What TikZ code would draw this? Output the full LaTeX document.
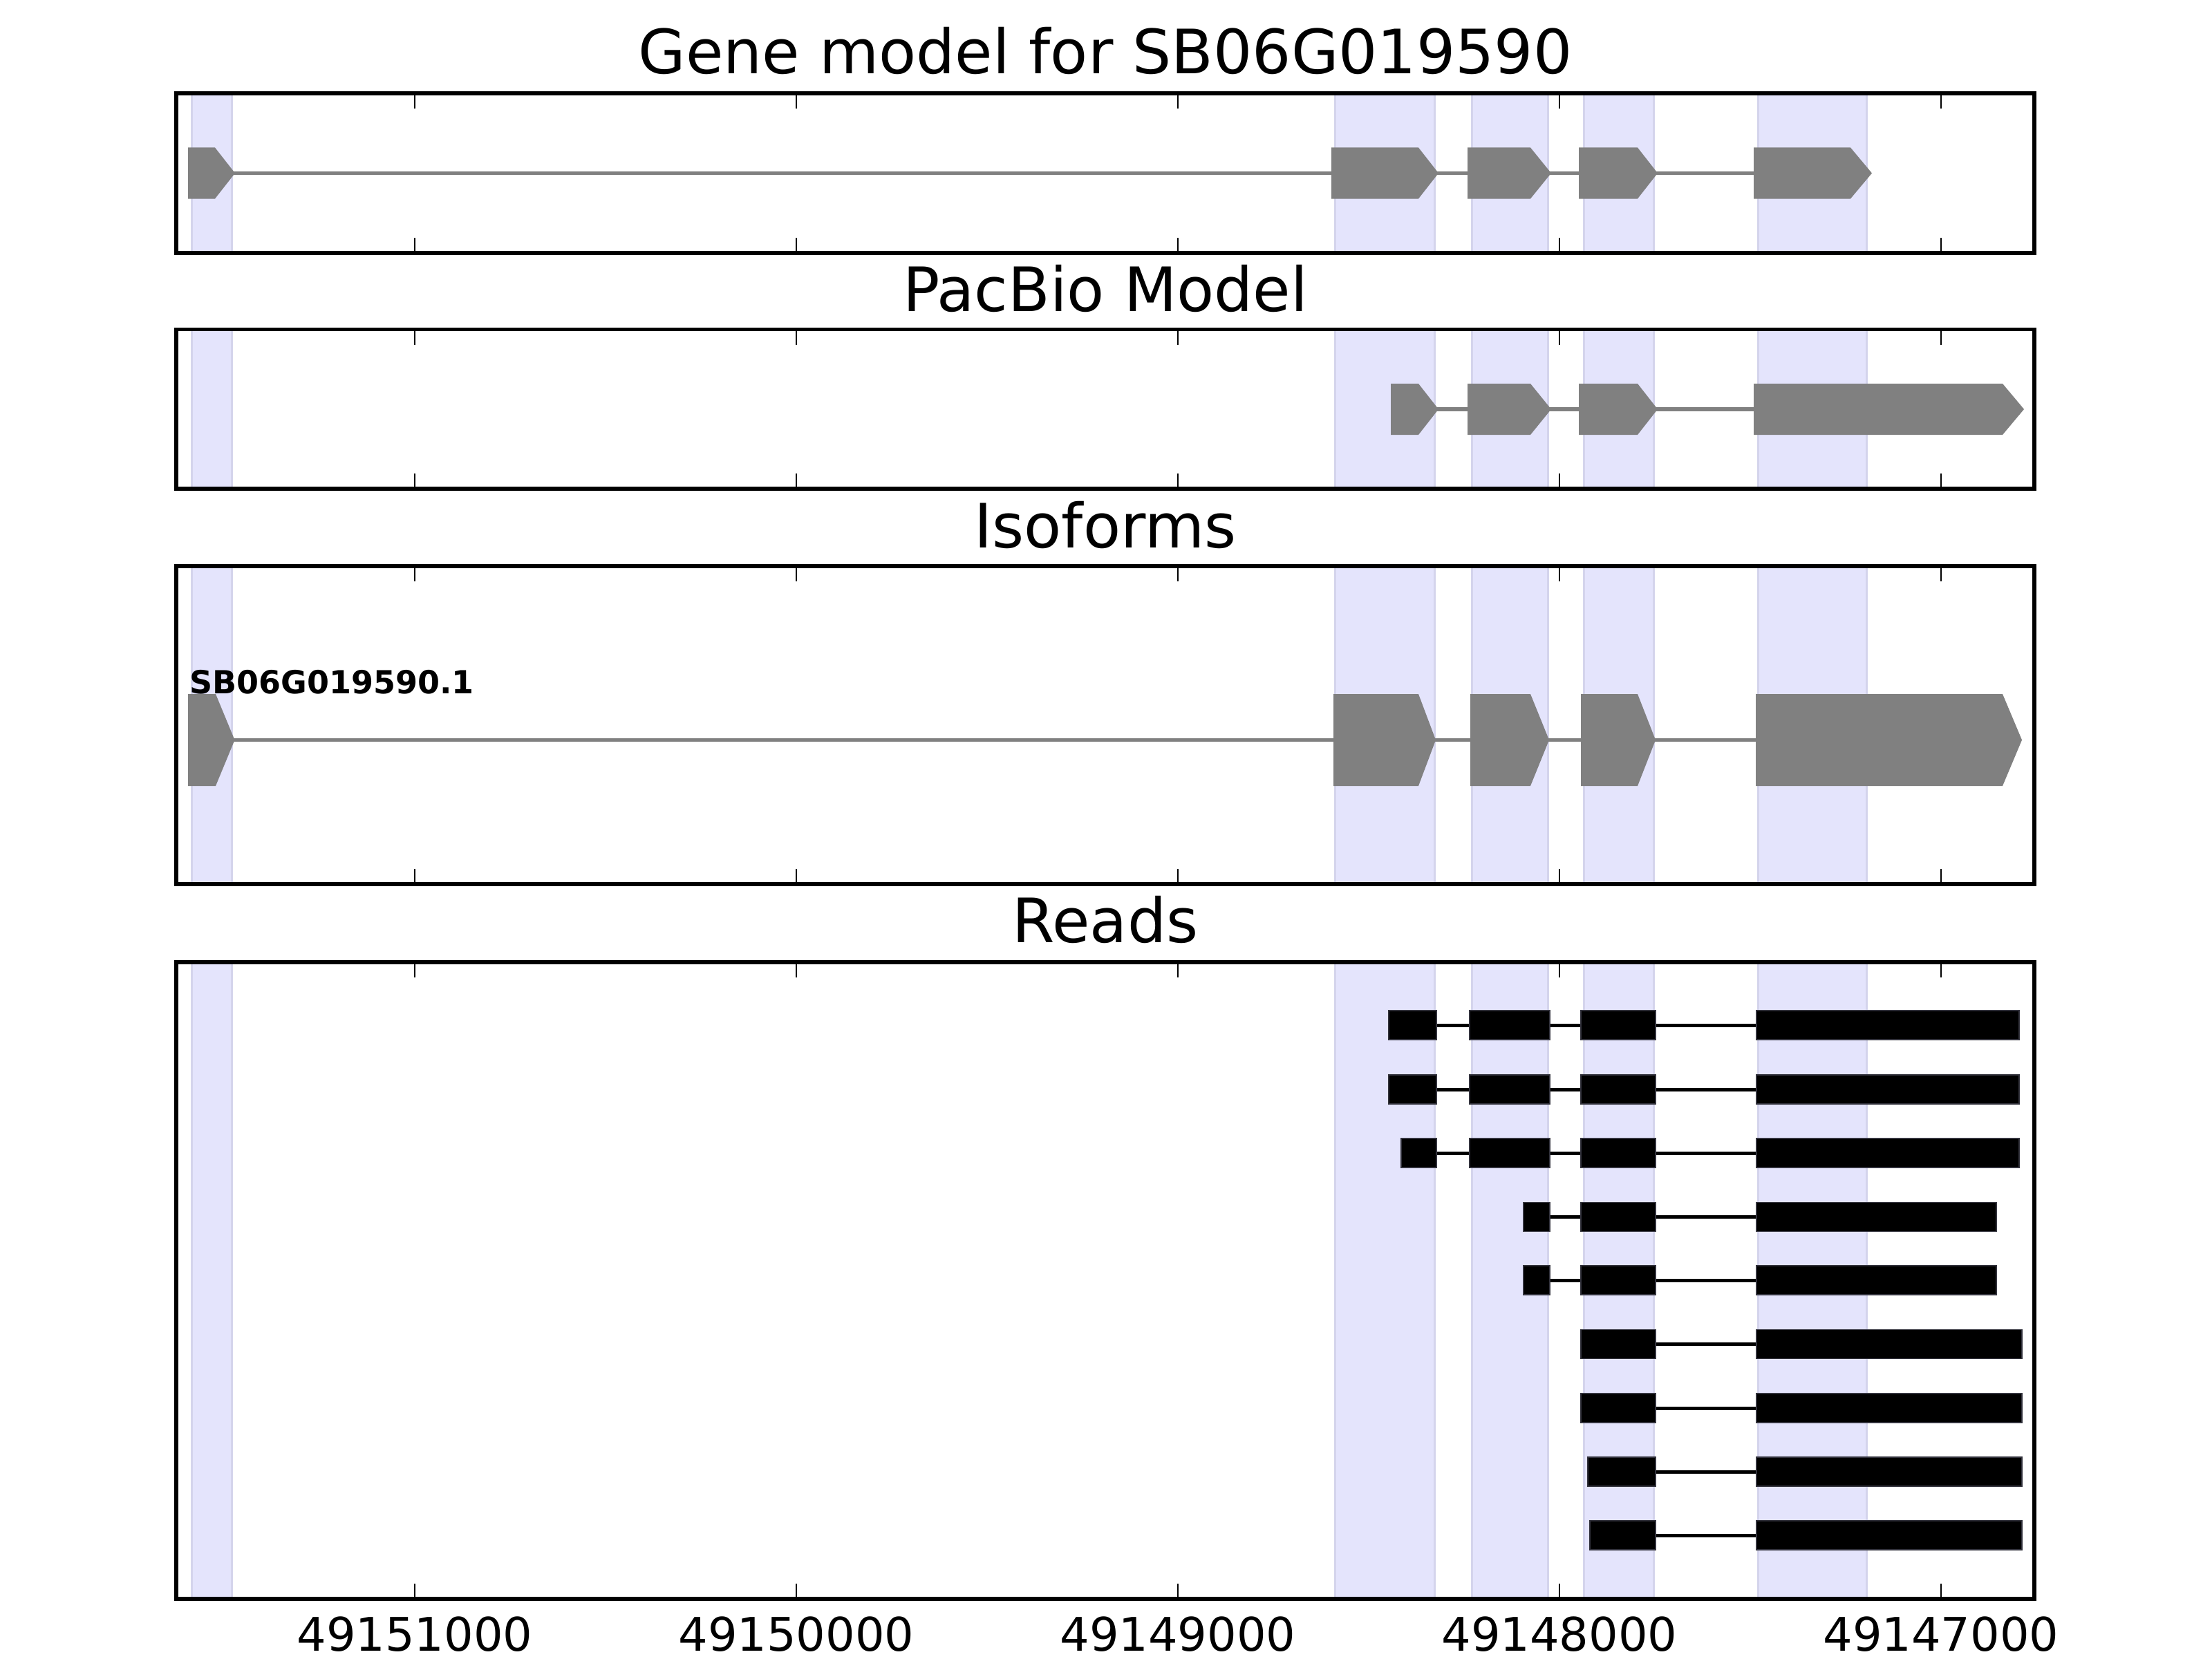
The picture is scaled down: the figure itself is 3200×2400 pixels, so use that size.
\documentclass[tikz,border=0pt]{standalone}
\usepackage{fontspec}
\setmainfont{DejaVu Sans}
\definecolor{bandfill}{RGB}{228,228,252}
\definecolor{bandedge}{RGB}{212,212,236}
\definecolor{exongray}{RGB}{128,128,128}
\definecolor{readedge}{RGB}{50,50,60}
\newcommand\exonarrow[5]{%
  \fill[exongray] (#1,#4-#5) -- (#2,#4-#5) -- (#3,#4) -- (#2,#4+#5) -- (#1,#4+#5) -- cycle;}
\newcommand\panelbg[2]{%
  \foreach \a/\b in {277/335,1931/2075,2129/2239,2291/2392,2543/2700}
    \filldraw[band] (\a,#1) rectangle (\b,#2);}
\newcommand\panelfg[2]{%
  \foreach \t in {600,1152,1704,2256,2808}{
    \draw[tickmark] (\t,#1) -- (\t,#1+22);
    \draw[tickmark] (\t,#2) -- (\t,#2-22);}
  \draw[frame] (255,#1) rectangle (2943,#2);}
\begin{document}
\begin{tikzpicture}[x=1pt,y=-1pt,
  band/.style={fill=bandfill,draw=bandedge,line width=3pt},
  intron/.style={draw=exongray,line width=5.5pt},
  readbox/.style={fill=black,draw=readedge,line width=1.5pt},
  readline/.style={draw=black,line width=5pt},
  frame/.style={draw=black,line width=5.5pt},
  tickmark/.style={draw=black,line width=2.8pt},
  paneltitle/.style={font=\fontsize{88.5}{104}\selectfont,anchor=base,inner sep=0pt},
  ticklabel/.style={font=\fontsize{67}{80}\selectfont,anchor=base,inner sep=0pt},
  isolabel/.style={font=\bfseries\fontsize{46}{56}\selectfont,anchor=base west,inner sep=0pt}]
\useasboundingbox (0,0) rectangle (3200,2400);
\fill[white] (0,0) rectangle (3200,2400);

% ---------- Panel 1: gene model ----------
\node[paneltitle] (t1) at (1599,107) {Gene model for SB06G019590};
\panelbg{135}{366}
\draw[intron] (272,250.5) -- (2537,250.5);
\exonarrow{272}{311}{340}{250.5}{37}
\exonarrow{1926}{2052}{2081}{250.5}{37}
\exonarrow{2123}{2214}{2244}{250.5}{37}
\exonarrow{2284}{2369}{2398}{250.5}{37}
\exonarrow{2537}{2677}{2708}{250.5}{37}
\panelfg{135}{366}

% ---------- Panel 2: PacBio model ----------
\node[paneltitle] (t2) at (1599,450) {PacBio Model};
\panelbg{476.5}{707}
\draw[intron] (2012,592) -- (2537,592);
\exonarrow{2012}{2052}{2081}{592}{37}
\exonarrow{2123}{2214}{2244}{592}{37}
\exonarrow{2284}{2369}{2398}{592}{37}
\exonarrow{2537}{2897}{2928}{592}{37}
\panelfg{476.5}{707}

% ---------- Panel 3: isoforms ----------
\node[paneltitle] (t3) at (1599,792) {Isoforms};
\panelbg{819}{1279}
\draw[intron] (272,1070.5) -- (2540,1070.5);
\exonarrow{272}{312}{339.5}{1070.5}{66.5}
\exonarrow{1929}{2052}{2077}{1070.5}{66.5}
\exonarrow{2127}{2214}{2241}{1070.5}{66.5}
\exonarrow{2287}{2369}{2395}{1070.5}{66.5}
\exonarrow{2540}{2897}{2925}{1070.5}{66.5}
\node[isolabel] (iso) at (274,1003) {SB06G019590.1};
\panelfg{819}{1279}

% ---------- Panel 4: reads ----------
\node[paneltitle] (t4) at (1599,1363) {Reads};
\panelbg{1392}{2313}
% rows with four blocks
\foreach \y/\s in {1483/2009,1576/2009,1668/2027}{
  \draw[readline] (\s,\y) -- (2541,\y);
  \foreach \a/\b in {\s/2078,2126/2242,2287/2395,2541/2921}
    \filldraw[readbox] (\a,\y-21) rectangle (\b,\y+21);
}
% rows with three blocks
\foreach \y in {1760.5,1852}{
  \draw[readline] (2204,\y) -- (2541,\y);
  \foreach \a/\b in {2204/2242,2287/2395,2541/2888}
    \filldraw[readbox] (\a,\y-21) rectangle (\b,\y+21);
}
% rows with two blocks
\foreach \y/\s in {1944.5/2287,2037/2287,2129/2297,2221/2300}{
  \draw[readline] (\s,\y) -- (2541,\y);
  \foreach \a/\b in {\s/2395,2541/2925}
    \filldraw[readbox] (\a,\y-21) rectangle (\b,\y+21);
}
\panelfg{1392}{2313}

% ---------- axis labels ----------
\node[ticklabel] (x1) at (600,2388) {49151000};
\node[ticklabel] (x2) at (1152,2388) {49150000};
\node[ticklabel] (x3) at (1704,2388) {49149000};
\node[ticklabel] (x4) at (2256,2388) {49148000};
\node[ticklabel] (x5) at (2808,2388) {49147000};
\end{tikzpicture}
\end{document}
